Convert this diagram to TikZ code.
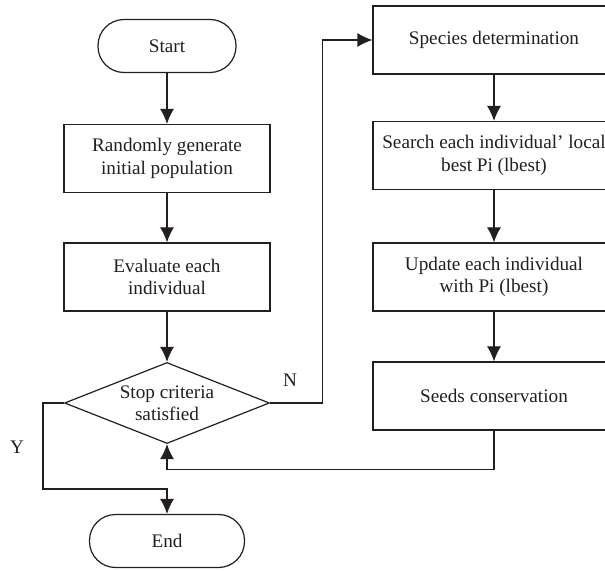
\documentclass[tikz,border=0pt]{standalone}
\usepackage{fontspec}
\setmainfont{Liberation Serif}
\usetikzlibrary{arrows.meta, shapes.geometric, positioning}
\definecolor{inkgray}{HTML}{231F20}
\begin{document}
\begin{tikzpicture}[
        on grid, >={Latex[length=7.5pt,width=7pt]},
        color=inkgray, line width=0.6pt,
        every node/.style={font=\fontsize{9.6}{11.2}\selectfont},
        terminal/.style={draw, rectangle, rounded corners=13pt, minimum height=26.5pt},
        process/.style={draw, rectangle, align=center, minimum width=103pt, minimum height=34pt, inner sep=2pt},
        rprocess/.style={process, minimum width=121pt},
        decision/.style={draw, diamond, align=center, aspect=2.5, inner sep=0pt, minimum width=102.5pt, minimum height=40.5pt},
        ]
        \useasboundingbox (0pt,0pt) rectangle (302.5pt,-285.5pt);

        \node[terminal, minimum width=69pt] (start) at (83.5pt,-23pt) {Start};
        \node[process, below=56.25pt of start] (init) {Randomly generate\\initial population};
        \node[process, below=59.25pt of init] (eval) {Evaluate each\\individual};
        \node[decision, below=63pt of eval] (stop) {Stop criteria\\satisfied};
        \node[terminal, minimum width=77.5pt, below=69pt of stop] (end) {End};

        \node[rprocess] (species) at (247pt,-20pt) {Species determination};
        \node[rprocess, below=57.75pt of species] (search) {Search each individual' local\\best Pi (lbest)};
        \node[rprocess, below=60.75pt of search] (update) {Update each individual\\with Pi (lbest)};
        \node[rprocess, below=59.5pt of update] (seeds) {Seeds conservation};

        \draw[->] (start) -- (init);
        \draw[->] (init) -- (eval);
        \draw[->] (eval) -- (stop);
        \draw[->] (species) -- (search);
        \draw[->] (search) -- (update);
        \draw[->] (update) -- (seeds);

        \draw[->] (stop.east) -- ++(26.25pt,0) |- (species.west);
        \draw[->] (seeds.south) -- ++(0,-19.5pt) -| (stop.south);
        \draw[->] (stop.west) -- ++(-10.5pt,0) |- ([yshift=12.5pt]end.north) -- (end.north);

        \node (nlabel) at (145pt,-190pt) {N};
        \node (ylabel) at (8.5pt,-223.5pt) {Y};
      \end{tikzpicture}
\end{document}
